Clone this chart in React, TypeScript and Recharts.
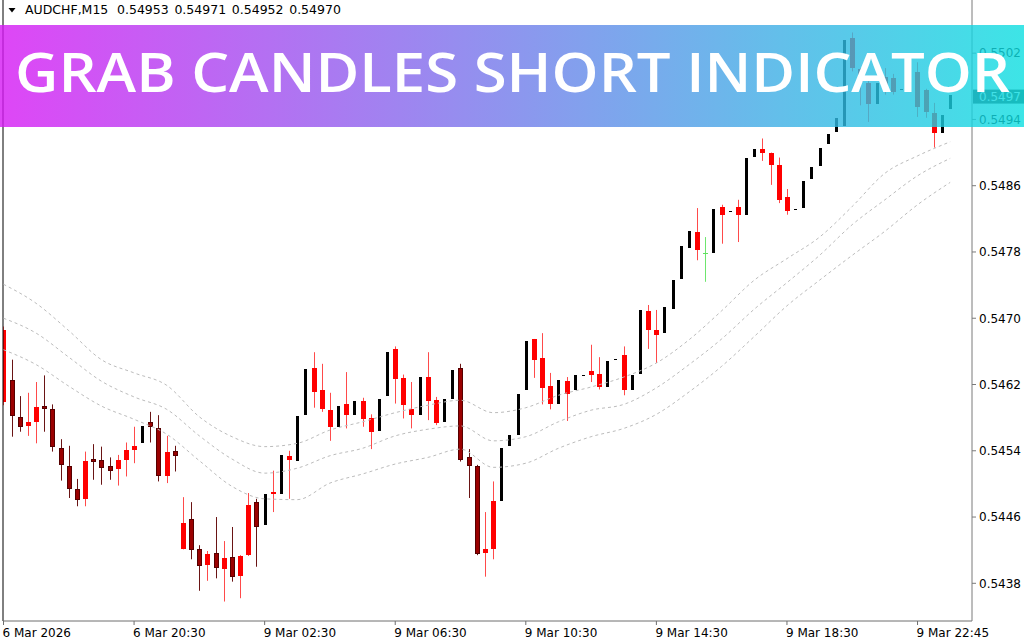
import React from "react"
import { ComposedChart, Bar, Line, XAxis, YAxis, ReferenceLine } from "recharts"

const SYMBOL = "AUDCHF,M15"
const TITLE = "GRAB CANDLES SHORT INDICATOR"

// M15 bars, oldest first
const OPEN = [
  0.54686, 0.54625, 0.54581, 0.54575, 0.54593, 0.54594, 0.5459, 0.54543, 0.54522, 0.54494,
  0.54482, 0.5453, 0.54529, 0.54522, 0.54518, 0.54529, 0.54541, 0.54549, 0.54575, 0.54568,
  0.5451, 0.5454, 0.54422, 0.54458, 0.54421, 0.54402, 0.54417, 0.54397, 0.54412, 0.54389,
  0.54414, 0.54478, 0.5445, 0.54488, 0.54488, 0.54534, 0.54528, 0.54583, 0.5464, 0.54613,
  0.54589, 0.54569, 0.54596, 0.54583, 0.546, 0.5458, 0.54564, 0.54606, 0.54663, 0.54628,
  0.54591, 0.54583, 0.54629, 0.54601, 0.54575, 0.54603, 0.5464, 0.54532, 0.54522, 0.54417,
  0.54421, 0.54479, 0.54546, 0.54559, 0.54613, 0.54675, 0.54652, 0.54618, 0.54596, 0.54624,
  0.54613, 0.54631, 0.54636, 0.54633, 0.54617, 0.5465, 0.54656, 0.54613, 0.54633, 0.54709,
  0.54686, 0.54682, 0.54711, 0.54747, 0.54785, 0.54804, 0.54779, 0.54779, 0.54834, 0.54828,
  0.54834, 0.54825, 0.54895, 0.54904, 0.549, 0.54885, 0.54846, 0.54831, 0.54833, 0.54868,
  0.54884, 0.5491, 0.54925, 0.54932, 0.55038, 0.55001, 0.54984, 0.54959, 0.54991, 0.5499,
  0.54975, 0.54977, 0.54997, 0.54976, 0.54948, 0.54924, 0.54953,
]
const HIGH = [
  0.5469, 0.5465, 0.54606, 0.5461, 0.54623, 0.54631, 0.54596, 0.54554, 0.54546, 0.54506,
  0.54539, 0.54548, 0.54545, 0.54532, 0.54535, 0.5455, 0.54569, 0.5457, 0.54587, 0.54583,
  0.54558, 0.54546, 0.54484, 0.54478, 0.54426, 0.54419, 0.5446, 0.54431, 0.54448, 0.54414,
  0.54489, 0.54482, 0.54488, 0.54516, 0.54535, 0.5454, 0.54582, 0.54639, 0.54659, 0.54645,
  0.5461, 0.54594, 0.54635, 0.546, 0.54604, 0.54584, 0.54603, 0.54659, 0.54666, 0.54632,
  0.54623, 0.54629, 0.54659, 0.54605, 0.54602, 0.54638, 0.54645, 0.54542, 0.54523, 0.54466,
  0.54503, 0.54543, 0.54559, 0.54609, 0.54673, 0.54675, 0.54682, 0.54634, 0.54625, 0.54629,
  0.54631, 0.54632, 0.54668, 0.54653, 0.54648, 0.54651, 0.54666, 0.54631, 0.5471, 0.54716,
  0.5471, 0.54713, 0.54746, 0.54787, 0.54805, 0.54833, 0.54798, 0.54832, 0.54837, 0.5483,
  0.54843, 0.54894, 0.54904, 0.54917, 0.549, 0.54894, 0.54856, 0.54832, 0.54866, 0.54882,
  0.54906, 0.54922, 0.54942, 0.55036, 0.55045, 0.55002, 0.5499, 0.54984, 0.55002, 0.54995,
  0.54977, 0.54997, 0.55009, 0.54977, 0.5496, 0.54945, 0.54971,
]
const LOW = [
  0.54595, 0.54557, 0.54563, 0.54558, 0.54549, 0.54563, 0.54539, 0.54504, 0.54483, 0.54473,
  0.54473, 0.54505, 0.54499, 0.54505, 0.54498, 0.54509, 0.54525, 0.54549, 0.5455, 0.54503,
  0.54501, 0.54515, 0.54421, 0.54409, 0.54371, 0.54383, 0.54386, 0.54358, 0.54382, 0.54362,
  0.54413, 0.544, 0.5445, 0.54466, 0.54488, 0.54482, 0.54528, 0.54583, 0.54592, 0.54587,
  0.54552, 0.54569, 0.54567, 0.54583, 0.54569, 0.54542, 0.54564, 0.54606, 0.54597, 0.54579,
  0.54567, 0.54583, 0.54577, 0.54571, 0.54575, 0.54603, 0.54527, 0.54483, 0.54414, 0.54388,
  0.54409, 0.54479, 0.54546, 0.54559, 0.54613, 0.54628, 0.54596, 0.5459, 0.54596, 0.54576,
  0.54613, 0.54631, 0.54623, 0.54614, 0.54617, 0.5465, 0.54607, 0.54613, 0.54633, 0.54663,
  0.54646, 0.54682, 0.54711, 0.54747, 0.54785, 0.5477, 0.54744, 0.54779, 0.5479, 0.54828,
  0.54792, 0.54825, 0.54895, 0.5489, 0.54861, 0.54839, 0.54825, 0.54831, 0.54833, 0.54868,
  0.54884, 0.5491, 0.54925, 0.54932, 0.54998, 0.54957, 0.54937, 0.54959, 0.5497, 0.5497,
  0.54975, 0.54977, 0.54943, 0.54942, 0.54906, 0.54924, 0.54952,
]
const CLOSE = [
  0.54599, 0.54582, 0.54569, 0.5457, 0.54575, 0.5459, 0.54544, 0.54523, 0.54494, 0.54481,
  0.54528, 0.54526, 0.54519, 0.54516, 0.54529, 0.54541, 0.54546, 0.5457, 0.54569, 0.5451,
  0.54539, 0.54534, 0.54453, 0.5442, 0.54401, 0.54415, 0.54398, 0.54411, 0.54388, 0.54413,
  0.54475, 0.54448, 0.54488, 0.5449, 0.54535, 0.54529, 0.54582, 0.54639, 0.54611, 0.5459,
  0.54569, 0.54594, 0.54583, 0.546, 0.54578, 0.54563, 0.54603, 0.54659, 0.54627, 0.54595,
  0.54583, 0.54629, 0.546, 0.54574, 0.54602, 0.54638, 0.54529, 0.54522, 0.54415, 0.54422,
  0.54479, 0.54543, 0.54559, 0.54609, 0.54673, 0.5465, 0.54616, 0.54596, 0.54625, 0.54608,
  0.54631, 0.54632, 0.54631, 0.54617, 0.54648, 0.54651, 0.54613, 0.54631, 0.5471, 0.54686,
  0.5468, 0.54713, 0.54746, 0.54787, 0.54805, 0.54782, 0.54779, 0.54832, 0.54825, 0.5483,
  0.54825, 0.54894, 0.54904, 0.54899, 0.54885, 0.54843, 0.5483, 0.54832, 0.54866, 0.54882,
  0.54906, 0.54922, 0.54942, 0.55036, 0.55002, 0.54985, 0.54959, 0.54984, 0.54978, 0.54973,
  0.54977, 0.54997, 0.54955, 0.54949, 0.54924, 0.54945, 0.5497,
]
// k = plain bar, r = red bar, d = dark red bar, g = green doji
const TONE = (
  "rddrrddddd" + "rdddrrrkdd" + "rdrddrdrdr" + "rdkrkrkkrr" + "rkrkrrkkrr" + "rkrrkkdddr" +
  "rkkkkrrrkr" + "kkrrkkrkkr" + "rkkkkrgkrk" + "rkkrrrrkkk" + "kkkkrrrkrr" + "kkrrrkk"
).split("")

// envelope bands, one reading every 4 bars
const ENV_STEP = 4
const UPPER = [
  0.54741, 0.54718, 0.54685, 0.5465, 0.54634, 0.54619, 0.54581, 0.54557, 0.54545, 0.54549,
  0.54565, 0.54575, 0.54586, 0.54595, 0.54601, 0.54586, 0.54592, 0.54607, 0.54617, 0.54629,
  0.54646, 0.54674, 0.54709, 0.54746, 0.54772, 0.54798, 0.54835, 0.54875, 0.54896, 0.54913,
]
const MIDDLE = [
  0.547, 0.54682, 0.54653, 0.54624, 0.54605, 0.5459, 0.54558, 0.5453, 0.54513, 0.54519,
  0.54534, 0.54543, 0.54558, 0.54566, 0.5457, 0.54552, 0.54557, 0.54575, 0.54589, 0.54596,
  0.54616, 0.54644, 0.54675, 0.54711, 0.54743, 0.54776, 0.54813, 0.54843, 0.54872, 0.54893,
]
const LOWER = [
  0.54662, 0.54644, 0.54618, 0.54594, 0.54578, 0.5456, 0.54528, 0.54497, 0.54482, 0.54481,
  0.54501, 0.54512, 0.54524, 0.54532, 0.54542, 0.5452, 0.54525, 0.54543, 0.54557, 0.54567,
  0.54584, 0.54611, 0.54642, 0.54678, 0.54715, 0.54746, 0.54776, 0.54805, 0.54837, 0.54864,
]

const PRICE_TICKS = [0.5438, 0.5446, 0.5454, 0.5462, 0.547, 0.5478, 0.5486, 0.5494, 0.5502]
const TIME_TICK_BARS = [0, 16, 32, 48, 64, 80, 96, 112]
const TIME_LABELS = [
  "6 Mar 2026", "6 Mar 20:30", "9 Mar 02:30", "9 Mar 06:30",
  "9 Mar 10:30", "9 Mar 14:30", "9 Mar 18:30", "9 Mar 22:45",
]

const X_MIN = -0.0613
const X_MAX = 118.674
const Y_MIN = 0.543345
const Y_MAX = 0.550842

const FONT = "'DejaVu Sans', Tahoma, sans-serif"

const STYLE: Record<string, { w: number; fill: string; stroke?: string; wick?: string }> = {
  k: { w: 3, fill: "#000" },
  r: { w: 5, fill: "#ff0000", wick: "#ff4a4a" },
  d: { w: 5, fill: "#9a0000", stroke: "#560000", wick: "#6a1414" },
  g: { w: 5, fill: "#5fe05f", wick: "#6ee66e" },
}

const rows = OPEN.map((o, i) => ({
  i,
  o,
  h: HIGH[i],
  l: LOW[i],
  c: CLOSE[i],
  tone: TONE[i],
  range: [LOW[i], HIGH[i]],
  up: i % ENV_STEP === 0 ? UPPER[i / ENV_STEP] : null,
  mid: i % ENV_STEP === 0 ? MIDDLE[i / ENV_STEP] : null,
  lo: i % ENV_STEP === 0 ? LOWER[i / ENV_STEP] : null,
}))

const last = OPEN.length - 1

function Candle(props: any) {
  const { x, y, width, height, payload } = props
  if (x == null || y == null || !payload) return null
  const { o, h, l, c, tone } = payload
  const top = Math.min(y, y + height)
  const span = Math.abs(height)
  const px = (v: number) => (h === l ? top : top + ((h - v) / (h - l)) * span)
  const st = STYLE[tone] || STYLE.k
  const cx = x + width / 2
  const left = Math.round(cx - st.w / 2)
  const wx = left + st.w / 2
  if (tone === "g") {
    const yy = Math.round(px(o)) + 0.5
    return (
      <g>
        <line x1={wx} x2={wx} y1={px(h)} y2={px(l)} stroke={st.wick} />
        <line x1={left} x2={left + st.w} y1={yy} y2={yy} stroke={st.fill} />
      </g>
    )
  }
  const bTop = Math.round(px(Math.max(o, c)))
  const bh = Math.max(1, Math.round(px(Math.min(o, c))) - bTop)
  return (
    <g>
      {st.wick && <line x1={wx} x2={wx} y1={px(h)} y2={px(l)} stroke={st.wick} strokeWidth={1} />}
      <rect x={left} y={bTop} width={st.w} height={bh} fill={st.fill} />
      {st.stroke && bh > 2 && (
        <rect x={left + 0.5} y={bTop + 0.5} width={st.w - 1} height={bh - 1} fill="none" stroke={st.stroke} />
      )}
    </g>
  )
}

function TimeTick(props: any) {
  const { x, y, payload } = props
  const k = TIME_TICK_BARS.indexOf(payload.value)
  return (
    <text x={x - 1} y={y + 10} textAnchor="start" fontSize={12} fontFamily={FONT} fill="#000">
      {TIME_LABELS[k]}
    </text>
  )
}

function PriceTag(props: any) {
  const vb = props.viewBox
  if (!vb) return null
  const x0 = vb.x + vb.width + 1
  return (
    <g>
      <rect x={x0} y={vb.y - 5} width={52} height={14} fill="#3a3a3a" />
      <text x={x0 + 6} y={vb.y + 6.5} fontSize={12} fontFamily={FONT} fill="#fff">
        {CLOSE[last].toFixed(4)}
      </text>
    </g>
  )
}

export default function App() {
  const ohlc = [OPEN[last], HIGH[last], LOW[last], CLOSE[last]].map((v) => v.toFixed(5))
  return (
    <div style={{ position: "absolute", left: 0, top: 0, width: 1024, height: 640, background: "#fff", overflow: "hidden" }}>
      <ComposedChart width={1024} height={640} data={rows} margin={{ top: 0, right: 0, bottom: 0, left: 3 }}>
        <XAxis
          type="number"
          dataKey="i"
          domain={[X_MIN, X_MAX]}
          allowDataOverflow
          ticks={TIME_TICK_BARS}
          interval={0}
          height={19}
          tickSize={4}
          tickMargin={2}
          axisLine={{ stroke: "#6e6e6e" }}
          tickLine={{ stroke: "#6e6e6e" }}
          tick={<TimeTick />}
        />
        <YAxis
          orientation="right"
          domain={[Y_MIN, Y_MAX]}
          allowDataOverflow
          ticks={PRICE_TICKS}
          interval={0}
          width={52}
          tickSize={4}
          tickMargin={3}
          tickFormatter={(v: number) => v.toFixed(4)}
          axisLine={{ stroke: "#7a7a7a" }}
          tickLine={{ stroke: "#7a7a7a" }}
          tick={{ fontSize: 12, fontFamily: FONT, fill: "#000" }}
        />
        <ReferenceLine x={X_MIN} stroke="#000" />
        <Line dataKey="up" type="monotone" stroke="#bcbcbc" strokeDasharray="3 3" dot={false} connectNulls isAnimationActive={false} />
        <Line dataKey="mid" type="monotone" stroke="#bcbcbc" strokeDasharray="3 3" dot={false} connectNulls isAnimationActive={false} />
        <Line dataKey="lo" type="monotone" stroke="#bcbcbc" strokeDasharray="3 3" dot={false} connectNulls isAnimationActive={false} />
        <Bar dataKey="range" barSize={5} shape={<Candle />} isAnimationActive={false} />
        <ReferenceLine y={CLOSE[last]} stroke="none" label={(p: any) => <PriceTag {...p} />} />
      </ComposedChart>

      <svg width={1024} height={640} style={{ position: "absolute", left: 0, top: 0, pointerEvents: "none" }}>
        <defs>
          <linearGradient id="banner" x1="0" x2="1" y1="0" y2="0">
            <stop offset="0%" stopColor="rgb(214,24,244)" stopOpacity={0.8} />
            <stop offset="100%" stopColor="rgb(12,222,224)" stopOpacity={0.8} />
          </linearGradient>
        </defs>
        <path d="M8.5 8 L15.5 8 L12 12.5 Z" fill="#000" />
        <text y={14} fontSize={12.5} fontFamily={FONT} fill="#000">
          <tspan x={25}>{SYMBOL}</tspan>
          {ohlc.map((v, k) => (
            <tspan key={k} x={117 + k * 57.4}>{v}</tspan>
          ))}
        </text>
        <rect x={0} y={25} width={1024} height={102} fill="url(#banner)" />
        <text
          x={15}
          y={92}
          fontSize={54}
          fontWeight={600}
          fontFamily="'Open Sans', Lato, sans-serif"
          fill="#fff"
          textLength={995}
          lengthAdjust="spacingAndGlyphs"
        >
          {TITLE}
        </text>
      </svg>
    </div>
  )
}
